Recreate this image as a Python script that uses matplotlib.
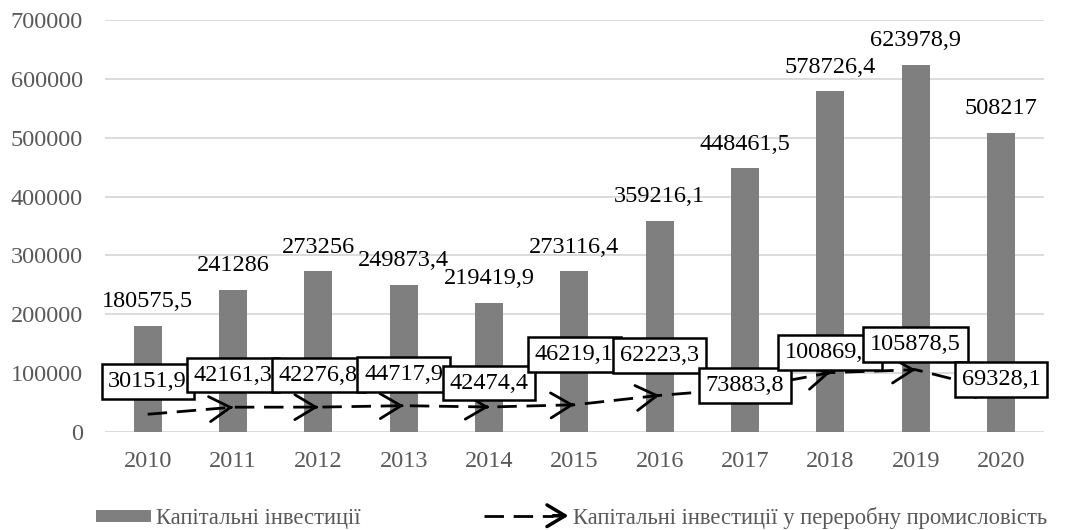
import matplotlib
matplotlib.use('Agg')
import matplotlib.pyplot as plt
import numpy as np
from matplotlib.legend_handler import HandlerBase
from matplotlib.patches import FancyArrowPatch, Patch, Rectangle
from matplotlib.lines import Line2D

years = ['2010', '2011', '2012', '2013', '2014', '2015', '2016', '2017', '2018', '2019', '2020']
capital = [180575.5, 241286, 273256, 249873.4, 219419.9, 273116.4, 359216.1, 448461.5, 578726.4, 623978.9, 508217]
capital_lbl = ['180575,5', '241286', '273256', '249873,4', '219419,9', '273116,4', '359216,1',
               '448461,5', '578726,4', '623978,9', '508217']
industry = [30151.9, 42161.3, 42276.8, 44717.9, 42474.4, 46219.1, 62223.3, 73883.8, 100869.7, 105878.5, 69328.1]
industry_lbl = ['30151,9', '42161,3', '42276,8', '44717,9', '42474,4', '46219,1', '62223,3',
                '73883,8', '100869,7', '105878,5', '69328,1']
# label offsets in pixels (y up) for the boxed labels
box_dy = [33, 32, 32, 31, 24, 50, 40, 3, 20, 25, 12]

plt.rcParams['font.family'] = ['Liberation Serif', 'DejaVu Serif']
fs = 17.5
bar_col = '#7f7f7f'

fig = plt.figure(figsize=(10.86, 5.30), dpi=100)
ax = fig.add_axes([0.0967, 0.1849, 0.8643, 0.7774])

x = np.arange(len(years))
gray_txt = '#595959'

ax.bar(x, capital, width=0.33, color=bar_col, zorder=2)
for xi, v, s in zip(x, capital, capital_lbl):
    ax.annotate(s, (xi, v), xytext=(0, 24), textcoords='offset pixels',
                ha='center', va='center', fontsize=fs, color='black', zorder=5)

dash = (0, (7, 3.5))
ax.plot(x, industry, color='black', lw=2, linestyle=dash, zorder=3)
for i in range(1, len(x)):
    x0, y0 = x[i - 1], industry[i - 1]
    x1, y1 = x[i], industry[i]
    xs = x1 - (x1 - x0) * 0.02
    ys = y1 - (y1 - y0) * 0.02
    ax.annotate('', xy=(x1, y1), xytext=(xs, ys),
                arrowprops=dict(arrowstyle='->,head_length=0.5,head_width=0.3', color='black', lw=2,
                                mutation_scale=30, shrinkA=0, shrinkB=0),
                zorder=3)

for xi, v, s, dy in zip(x, industry, industry_lbl, box_dy):
    ax.annotate(s, (xi, v), xytext=(0, dy), textcoords='offset pixels',
                ha='center', va='center', fontsize=fs, color='black', zorder=6,
                bbox=dict(boxstyle='square,pad=0.28', fc='white', ec='black', lw=1.8))

ax.set_xlim(-0.5, len(years) - 0.5)
ax.set_ylim(0, 700000)
ax.set_yticks(np.arange(0, 700001, 100000))
ax.set_yticklabels([str(v) for v in range(0, 700001, 100000)])
ax.set_xticks(x)
ax.set_xticklabels(years)
ax.tick_params(axis='both', length=0, labelsize=fs, labelcolor=gray_txt)
ax.tick_params(axis='y', pad=16)
ax.tick_params(axis='x', pad=14)
ax.grid(axis='y', color='#d9d9d9', lw=1.3, zorder=0)
ax.set_axisbelow(True)
for sp in ax.spines.values():
    sp.set_visible(False)


class HandlerArrow(HandlerBase):
    def create_artists(self, legend, orig_handle, xdescent, ydescent,
                       width, height, fontsize, trans):
        yc = height / 2 - ydescent
        ln = Line2D([-xdescent, -xdescent + width * 0.82], [yc, yc], color='black',
                    lw=2, linestyle=(0, (7, 3.5)), transform=trans)
        ar = FancyArrowPatch((-xdescent + width * 0.82, yc), (-xdescent + width, yc),
                             arrowstyle='->,head_length=0.5,head_width=0.3', mutation_scale=26,
                             lw=2.5, color='black', shrinkA=0, shrinkB=0, transform=trans)
        return [ln, ar]


class HandlerBar(HandlerBase):
    def create_artists(self, legend, orig_handle, xdescent, ydescent,
                       width, height, fontsize, trans):
        w = width * 0.65
        r = Rectangle((-xdescent + width - w, -ydescent), w, height,
                      facecolor=bar_col, edgecolor='none', transform=trans)
        return [r]


bar_h = Patch(facecolor=bar_col)
line_h = Line2D([], [], color='black')
leg = fig.legend([bar_h, line_h],
                 ['Капітальні інвестиції', 'Капітальні інвестиції у переробну промисловість'],
                 handler_map={Line2D: HandlerArrow(), Patch: HandlerBar()},
                 loc='center', bbox_to_anchor=(0.5125, 0.023), ncol=2, frameon=False,
                 fontsize=16.3, handlelength=3.75, handleheight=0.45, columnspacing=5.45,
                 handletextpad=0.2, labelcolor=gray_txt)

fig.savefig('out.png', dpi=100)
